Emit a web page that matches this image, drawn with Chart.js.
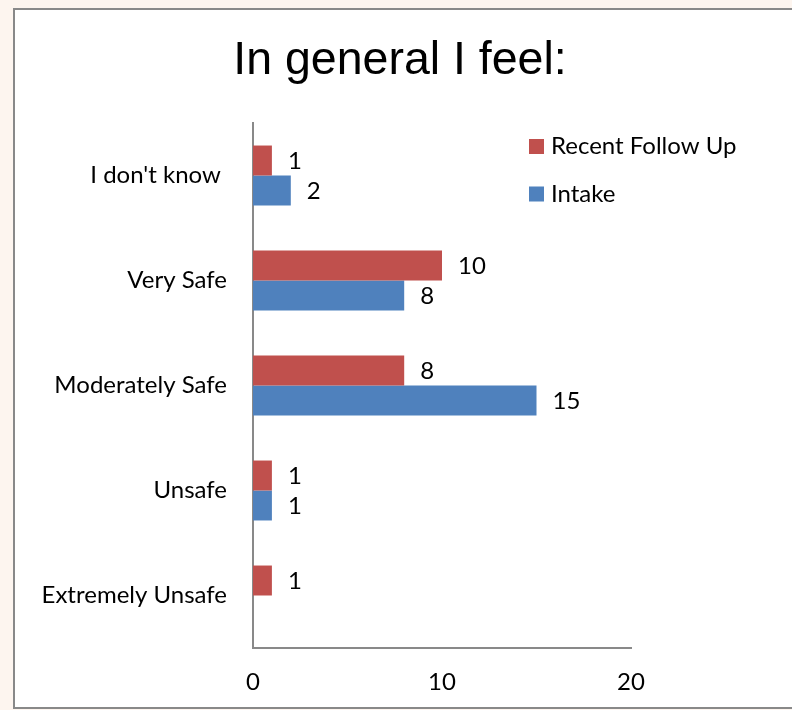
<!DOCTYPE html>
<html>
<head>
<meta charset="utf-8">
<script src="https://cdn.jsdelivr.net/npm/chart.js@4/dist/chart.umd.min.js"></script>
<style>
    html, body { margin: 0; padding: 0; background: #fdf5ef; }
    body { width: 792px; height: 710px; position: relative; overflow: hidden; }
    #frame {
        position: absolute; left: 13px; top: 8px;
        width: 820px; height: 701px; box-sizing: border-box;
        background: #ffffff; border: 2px solid #898989;
    }
    #wrap { position: absolute; left: 0; top: 0; width: 792px; height: 710px; }
</style>
</head>
<body>
<div id="frame"></div>
<div id="wrap"><canvas id="chart" width="792" height="710"></canvas></div>
<script>
const titleText = 'In general I feel:';
const categories = ['I don\'t know ', 'Very Safe', 'Moderately Safe', 'Unsafe', 'Extremely Unsafe'];
const followUp = [1, 10, 8, 1, 1];
const intake = [2, 8, 15, 1, 0];
const xTicks = [0, 10, 20];

const LABEL_FONT = { family: 'Lato', size: 24 };

// title, centred over the whole picture rather than the chart box
const titlePlugin = {
    id: 'titlePlugin',
    afterDraw(chart) {
        const ctx = chart.ctx;
        ctx.save();
        ctx.font = '46.5px "Liberation Sans"';
        ctx.fillStyle = '#000000';
        ctx.textAlign = 'center';
        ctx.textBaseline = 'alphabetic';
        ctx.fillText(titleText, 400, 74);
        ctx.restore();
    }
};

// value labels to the right of each bar
const valueLabels = {
    id: 'valueLabels',
    afterDatasetsDraw(chart) {
        const ctx = chart.ctx;
        ctx.save();
        ctx.font = `${LABEL_FONT.size}px ${LABEL_FONT.family}`;
        ctx.fillStyle = '#000000';
        ctx.textAlign = 'left';
        ctx.textBaseline = 'middle';
        chart.data.datasets.forEach((ds, i) => {
            chart.getDatasetMeta(i).data.forEach((bar, j) => {
                const v = ds.data[j];
                if (!v) return;
                ctx.fillText(String(v), bar.x + 16, bar.y + 1);
            });
        });
        ctx.restore();
    }
};

// legend drawn inside the plot, top right
const innerLegend = {
    id: 'innerLegend',
    afterDraw(chart) {
        const ctx = chart.ctx;
        ctx.save();
        ctx.font = `${LABEL_FONT.size}px ${LABEL_FONT.family}`;
        ctx.textAlign = 'left';
        ctx.textBaseline = 'middle';
        chart.data.datasets.forEach((ds, i) => {
            const y = 139 + i * 47.5;
            ctx.fillStyle = ds.backgroundColor;
            ctx.fillRect(529, y, 15, 15);
            ctx.fillStyle = '#000000';
            ctx.fillText(ds.label, 551, y + 7.5);
        });
        ctx.restore();
    }
};

new Chart(document.getElementById('chart'), {
    type: 'bar',
    data: {
        labels: categories,
        datasets: [
            {
                label: 'Recent Follow Up',
                data: followUp,
                backgroundColor: '#c0504d',
                categoryPercentage: 0.571,
                barPercentage: 1,
            },
            {
                label: 'Intake',
                data: intake,
                backgroundColor: '#4f81bd',
                categoryPercentage: 0.571,
                barPercentage: 1,
            },
        ]
    },
    options: {
        indexAxis: 'y',
        responsive: false,
        animation: false,
        layout: { padding: { top: 123, left: 0, right: 161, bottom: 0 } },
        plugins: {
            legend: { display: false },
            tooltip: { enabled: false },
            title: { display: false }
        },
        scales: {
            x: {
                min: 0,
                max: 20,
                afterBuildTicks: scale => { scale.ticks = xTicks.map(v => ({ value: v })); },
                afterFit: scale => { scale.height = 62; },
                ticks: { color: '#000000', font: LABEL_FONT, padding: 20 },
                grid: { display: false, drawTicks: false },
                border: { color: '#898989', width: 2 }
            },
            y: {
                afterFit: scale => { scale.width = 253; },
                ticks: { color: '#000000', font: LABEL_FONT, padding: 26 },
                grid: { display: false, drawTicks: false },
                border: { color: '#898989', width: 2 }
            }
        }
    },
    plugins: [titlePlugin, valueLabels, innerLegend]
});
</script>
</body>
</html>
